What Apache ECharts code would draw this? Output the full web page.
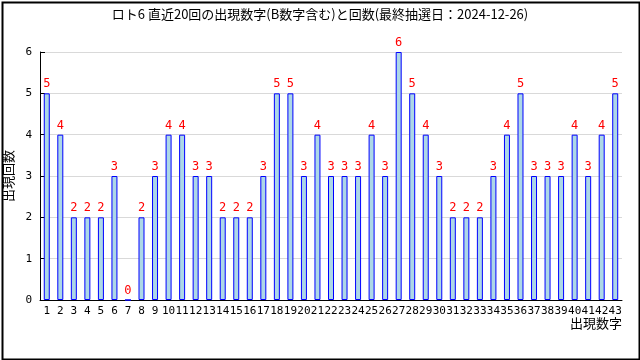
<!DOCTYPE html>
<html><head><meta charset="utf-8">
<script src="https://cdn.jsdelivr.net/npm/echarts@6/dist/echarts.min.js"></script>
<style>html,body{margin:0;padding:0;background:#fff}#c{width:640px;height:360px}</style>
</head><body><div id="c"></div>
<script>
var titleText = 'ロト6 直近20回の出現数字(B数字含む)と回数(最終抽選日：2024-12-26)';
var categories = ['1','2','3','4','5','6','7','8','9','10','11','12','13','14','15','16','17','18','19','20','21','22','23','24','25','26','27','28','29','30','31','32','33','34','35','36','37','38','39','40','41','42','43'];
var counts = [5,4,2,2,2,3,0,2,3,4,4,3,3,2,2,2,3,5,5,3,4,3,3,3,4,3,6,5,4,3,2,2,2,3,4,5,3,3,3,4,3,4,5];
var yTicks = [0,1,2,3,4,5,6];
var xName = '出現数字';
var yName = '出現回数';

var chart = echarts.init(document.getElementById('c'));
chart.setOption({
  animation: false,
  backgroundColor: '#ffffff',
  title: {
    text: titleText, left: 'center', top: 3,
    textStyle: {fontFamily: 'Noto Sans CJK JP', fontSize: 13, fontWeight: 'normal', color: '#000'}
  },
  graphic: [{
    type: 'rect', left: 0, top: 0, z: 100, silent: true,
    shape: {width: 637, height: 357},
    style: {fill: 'none', stroke: '#000', lineWidth: 2}
  }],
  grid: {left: 40, right: 18, top: 52, bottom: 60, containLabel: false, outerBoundsMode: 'none'},
  xAxis: {
    type: 'category', data: categories,
    name: xName, nameLocation: 'end', nameGap: 0,
    nameTextStyle: {fontFamily: 'Noto Sans CJK JP', fontSize: 13, color: '#000', align: 'right', verticalAlign: 'top', padding: [17, 0, 0, 0]},
    axisLine: {lineStyle: {color: '#000', width: 1}},
    axisTick: {inside: true, length: 5, lineStyle: {color: '#000'}},
    axisLabel: {interval: 0, margin: 6, fontFamily: 'DejaVu Sans Mono', fontSize: 11, color: '#000'}
  },
  yAxis: {
    type: 'value', min: 0, max: 6, interval: 1,
    name: yName, nameLocation: 'middle', nameGap: 24, nameRotate: 90,
    nameTextStyle: {fontFamily: 'Noto Sans CJK JP', fontSize: 13, color: '#000'},
    axisLine: {show: true, lineStyle: {color: '#000'}},
    axisTick: {show: true, inside: true, length: 5, lineStyle: {color: '#000'}},
    axisLabel: {margin: 8, fontFamily: 'DejaVu Sans Mono', fontSize: 11, color: '#000',
      formatter: function(v){ return yTicks.indexOf(v) >= 0 ? String(v) : ''; }},
    splitLine: {show: true, lineStyle: {color: '#d9d9d9'}}
  },
  series: [{
    type: 'bar', data: counts, barWidth: 6,
    itemStyle: {color: '#add8e6', borderColor: '#0000ff', borderWidth: 1},
    label: {show: true, position: 'top', distance: 3, color: '#ff0000', fontFamily: 'DejaVu Sans Mono', fontSize: 12}
  }]
});
</script></body></html>
